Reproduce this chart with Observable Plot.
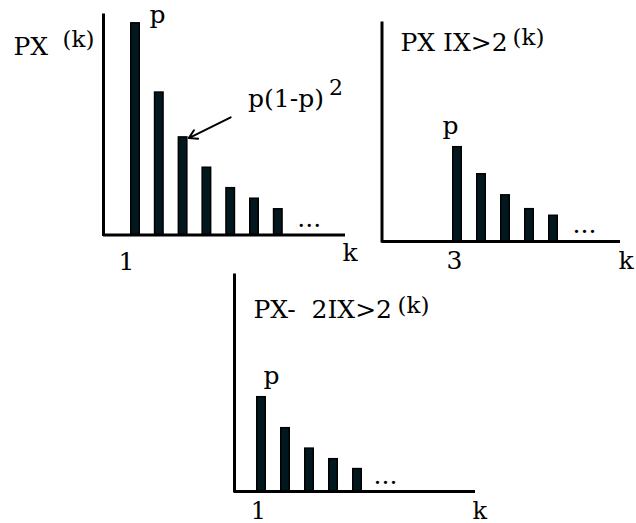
<!DOCTYPE html>
<html><head><meta charset="utf-8">
<script src="https://cdn.jsdelivr.net/npm/d3@7"></script>
<script src="https://cdn.jsdelivr.net/npm/@observablehq/plot@0.6"></script>
<style>
html,body{margin:0;padding:0;background:#fff;}
#chart{position:relative;width:636px;height:523px;overflow:hidden;background:#fff;}
#chart svg{position:absolute;}
</style></head><body><div id="chart"></div>
<script>
// ---- data ----
const kTop = [1, 2, 3, 4, 5, 6, 7];
const pmfTop = [0.321, 0.216, 0.148, 0.102, 0.071, 0.055, 0.039];
const kCond = [3, 4, 5, 6, 7];
const pmfCond = [0.143, 0.102, 0.070, 0.049, 0.039];
const kShift = [1, 2, 3, 4, 5];
const pmfShift = [0.143, 0.096, 0.065, 0.049, 0.034];
const titles = ["PX", "PX IX>2", "PX-\u00a0 2IX>2"];
const titleSup = "(k)";
const barLabel = "p";
const annotation = "p(1-p)";
const annotationSup = "2";
const ellipsis = "...";
const axisName = "k";
const firstTicks = ["1", "3", "1"];

// ---- layout ----
const FONT = "DejaVu Serif";
const pxPerUnit = 659.4;
const panels = [
  {k: kTop, p: pmfTop, tick: firstTicks[0], title: titles[0],
   left: 0, top: 0, width: 365, height: 275, mL: 103, mR: 20, mT: 15, mB: 40.5,
   step: 23.8, firstX: 135,
   title_d: [-90, 39], sup_d: [-41, 31], p_d: [14, 0], tick_d: [-9, 34.5], k_d: [-3, 25.5], dots_d: [19, -8],
   arrow: true},
  {k: kCond, p: pmfCond, tick: firstTicks[1], title: titles[1],
   left: 365, top: 0, width: 271, height: 275, mL: 16.5, mR: 16, mT: 23, mB: 34,
   step: 24, firstX: 457 - 365,
   title_d: [18.5, 27], sup_d: [130.5, 21], p_d: [-15, -13], tick_d: [-3, 27], k_d: [-2, 27], dots_d: [19, -9]},
  {k: kShift, p: pmfShift, tick: firstTicks[2], title: titles[2],
   left: 200, top: 270, width: 300, height: 253, mL: 34, mR: 25, mT: 5, mB: 32,
   step: 24, firstX: 261 - 200,
   title_d: [19, 42], sup_d: [163, 37], p_d: [2, -13], tick_d: [-3, 27], k_d: [-3, 27], dots_d: [16, -8],
   tickSize: 24}
];

const chart = document.getElementById("chart");

for (const c of panels) {
  const data = c.k.map((k, i) => ({k, p: c.p[i]}));
  const k0 = c.k[0], kN = c.k[c.k.length - 1];
  const xmin = k0 - (c.firstX - c.mL) / c.step;
  const xmax = k0 + ((c.width - c.mR) - c.firstX) / c.step;
  const ymax = (c.height - c.mB - c.mT) / pxPerUnit;
  const hw = 4.25 / c.step;
  const tickSize = c.tickSize || 25;
  const txt = (x, y, text, d, opts = {}) => Plot.text([text], {
    x: () => x, y: () => y, text: t => t, dx: d[0], dy: d[1],
    textAnchor: "start", lineAnchor: "bottom", fontFamily: FONT, fontSize: 25, fill: "#000", ...opts
  });
  const marks = [
    Plot.rect(data, {x1: d => d.k - hw, x2: d => d.k + hw, y1: 0, y2: "p",
      fill: "#03171f", stroke: "#000", strokeWidth: 1.5}),
    Plot.ruleX([xmin], {stroke: "#000", strokeWidth: 3, strokeLinecap: "square"}),
    Plot.ruleY([0], {stroke: "#000", strokeWidth: 3}),
    txt(xmin, ymax, c.title, c.title_d),
    txt(xmin, ymax, titleSup, c.sup_d, {fontSize: 23}),
    txt(k0, data[0].p, barLabel, c.p_d),
    txt(k0, 0, c.tick, c.tick_d, {textAnchor: "middle", fontSize: tickSize}),
    txt(xmax, 0, axisName, c.k_d, {fontSize: tickSize}),
    txt(kN, 0, ellipsis, c.dots_d)
  ];
  if (c.arrow) {
    const b = data[2];
    marks.push(Plot.arrow([b], {
      x1: d => d.k + 2.0, y1: d => d.p + 0.0305,
      x2: d => d.k + 0.24, y2: d => d.p - 0.001,
      stroke: "#000", strokeWidth: 2, headLength: 7
    }));
    marks.push(txt(b.k, b.p, annotation, [65, -30]));
    marks.push(txt(b.k, b.p, annotationSup, [146, -42], {fontSize: 22}));
  }
  const svg = Plot.plot({
    width: c.width, height: c.height,
    marginLeft: c.mL, marginRight: c.mR, marginTop: c.mT, marginBottom: c.mB,
    x: {domain: [xmin, xmax], axis: null},
    y: {domain: [0, ymax], axis: null},
    style: {background: "transparent", fontFamily: FONT, overflow: "visible"},
    marks
  });
  svg.style.left = c.left + "px";
  svg.style.top = c.top + "px";
  chart.appendChild(svg);
}
</script></body></html>
